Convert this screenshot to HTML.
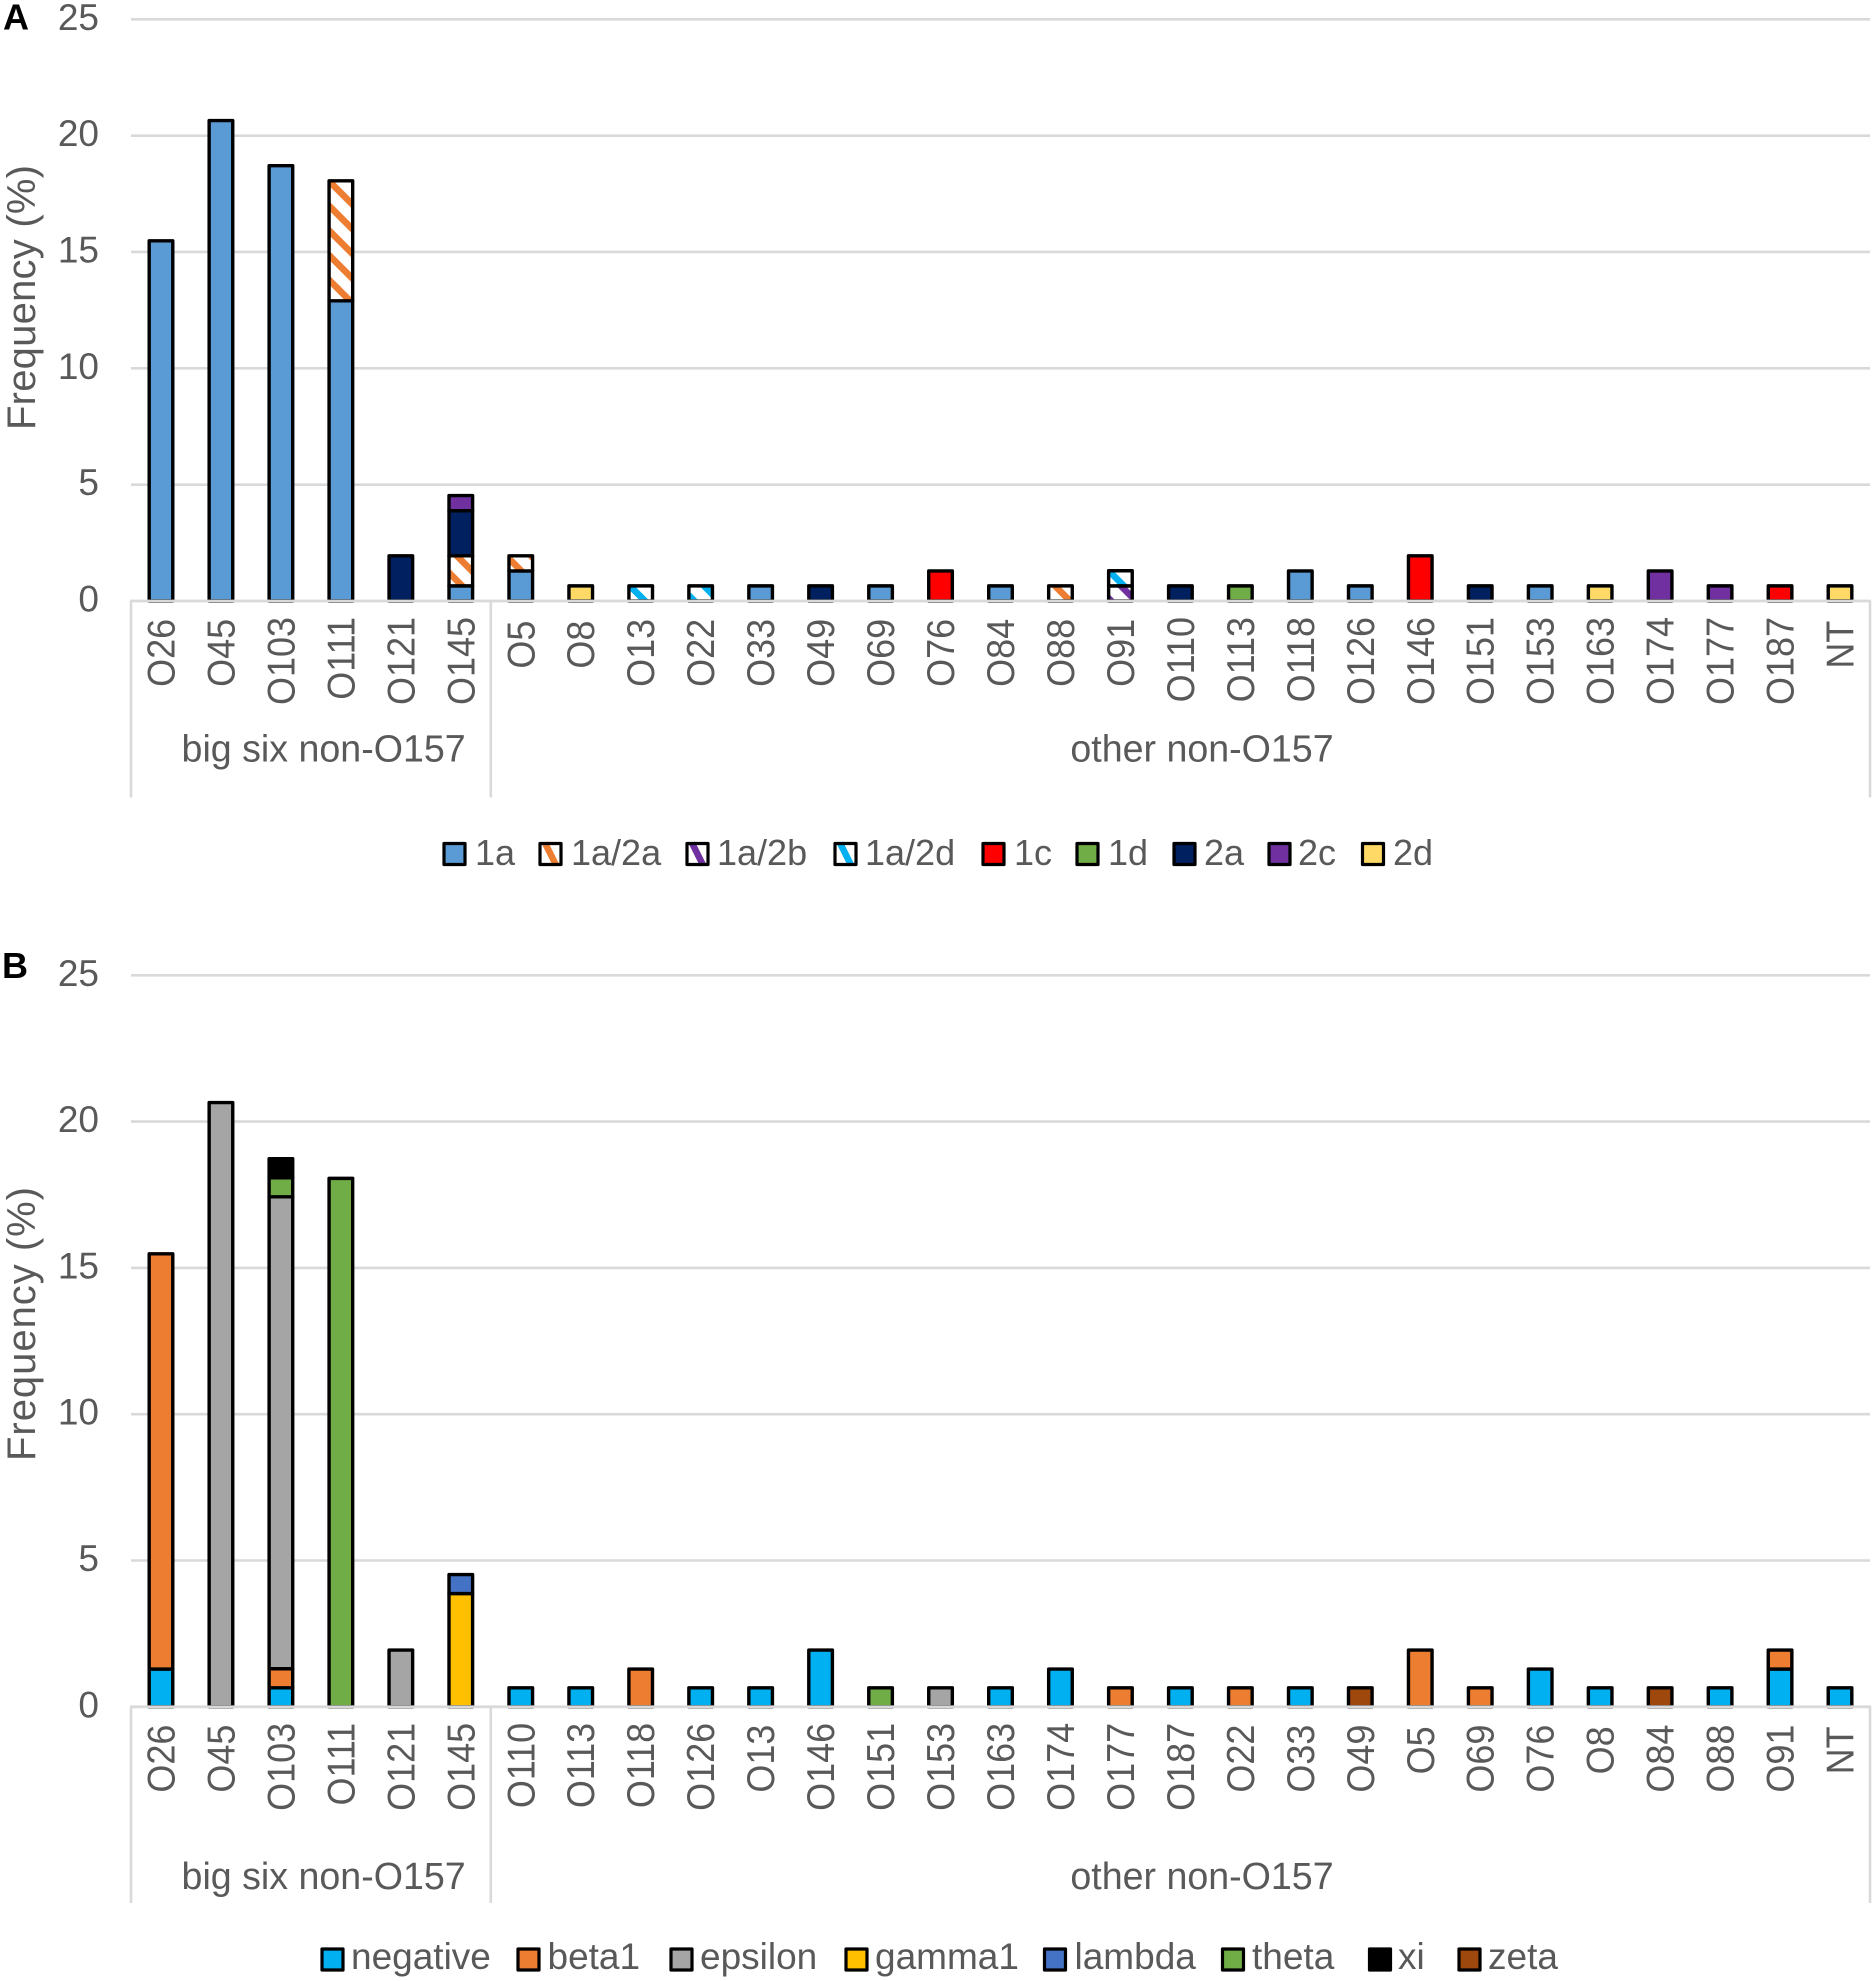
<!DOCTYPE html>
<html lang="en">
<head>
<meta charset="utf-8">
<title>Frequency of stx subtypes and eae subtypes by serogroup</title>
<style>
html,body{margin:0;padding:0;background:#fff;width:1876px;height:1981px;overflow:hidden}
svg{display:block}
text{font-family:"Liberation Sans",Arial,sans-serif;fill:#595959}
</style>
</head>
<body>
<svg id="figure" xmlns="http://www.w3.org/2000/svg" width="1876" height="1981" viewBox="0 0 1876 1981">
  <defs>
    <pattern id="stripe-orange" patternUnits="userSpaceOnUse" width="24.7" height="24.7" patternTransform="translate(331 183)">
      <rect width="24.7" height="24.7" fill="#fff"/>
      <path d="M-6 -6L31 31M-6 18.7L6 30.7M18.7 -6L31 6" stroke="#ED7D31" stroke-width="6.6" shape-rendering="crispEdges"/>
    </pattern>
    <pattern id="stripe-purple" patternUnits="userSpaceOnUse" width="24.7" height="24.7" patternTransform="translate(1118 583)">
      <rect width="24.7" height="24.7" fill="#fff"/>
      <path d="M-6 -6L31 31M-6 18.7L6 30.7M18.7 -6L31 6" stroke="#7030A0" stroke-width="6.6" shape-rendering="crispEdges"/>
    </pattern>
    <pattern id="stripe-cyan" patternUnits="userSpaceOnUse" width="24.7" height="24.7" patternTransform="translate(632 588)">
      <rect width="24.7" height="24.7" fill="#fff"/>
      <path d="M-6 -6L31 31M-6 18.7L6 30.7M18.7 -6L31 6" stroke="#00B0F0" stroke-width="6.6" shape-rendering="crispEdges"/>
    </pattern>
  </defs>

  <text x="3" y="29.5" font-size="36" font-weight="700" style="fill:#000">A</text>
  <text x="2" y="978" font-size="36" font-weight="700" style="fill:#000">B</text>

  <g id="panel-a"></g>
  <g id="panel-b"></g>

  <g font-size="36" stroke-linejoin="round">
    <g><rect x="444" y="843.5" width="21" height="21" fill="#5B9BD5" stroke="#000" stroke-width="3.2"/><text x="475" y="865">1a</text></g>
    <g><rect x="540" y="843.5" width="21" height="21" fill="#fff"/><path d="M545 843L556 865" stroke="#ED7D31" stroke-width="6.5" fill="none"/><rect x="540" y="843.5" width="21" height="21" fill="none" stroke="#000" stroke-width="3.2"/><text x="571" y="865">1a/2a</text></g>
    <g><rect x="687" y="843.5" width="21" height="21" fill="#fff"/><path d="M692 843L703 865" stroke="#7030A0" stroke-width="6.5" fill="none"/><rect x="687" y="843.5" width="21" height="21" fill="none" stroke="#000" stroke-width="3.2"/><text x="717" y="865">1a/2b</text></g>
    <g><rect x="835" y="843.5" width="21" height="21" fill="#fff"/><path d="M840 843L851 865" stroke="#00B0F0" stroke-width="6.5" fill="none"/><rect x="835" y="843.5" width="21" height="21" fill="none" stroke="#000" stroke-width="3.2"/><text x="865" y="865">1a/2d</text></g>
    <g><rect x="983" y="843.5" width="21" height="21" fill="#FF0000" stroke="#000" stroke-width="3.2"/><text x="1014" y="865">1c</text></g>
    <g><rect x="1077" y="843.5" width="21" height="21" fill="#70AD47" stroke="#000" stroke-width="3.2"/><text x="1108" y="865">1d</text></g>
    <g><rect x="1174" y="843.5" width="21" height="21" fill="#002060" stroke="#000" stroke-width="3.2"/><text x="1204" y="865">2a</text></g>
    <g><rect x="1269" y="843.5" width="21" height="21" fill="#7030A0" stroke="#000" stroke-width="3.2"/><text x="1298" y="865">2c</text></g>
    <g><rect x="1362.5" y="843.5" width="21" height="21" fill="#FFD966" stroke="#000" stroke-width="3.2"/><text x="1393" y="865">2d</text></g>
  </g>

  <g font-size="37" stroke-linejoin="round">
    <g><rect x="322" y="1949" width="21" height="21" fill="#00B0F0" stroke="#000" stroke-width="3.2"/><text x="351" y="1969">negative</text></g>
    <g><rect x="518" y="1949" width="21" height="21" fill="#ED7D31" stroke="#000" stroke-width="3.2"/><text x="547.5" y="1969">beta1</text></g>
    <g><rect x="671" y="1949" width="21" height="21" fill="#A5A5A5" stroke="#000" stroke-width="3.2"/><text x="700" y="1969">epsilon</text></g>
    <g><rect x="846" y="1949" width="21" height="21" fill="#FFC000" stroke="#000" stroke-width="3.2"/><text x="875" y="1969">gamma1</text></g>
    <g><rect x="1044.5" y="1949" width="21" height="21" fill="#4472C4" stroke="#000" stroke-width="3.2"/><text x="1074.5" y="1969">lambda</text></g>
    <g><rect x="1222.5" y="1949" width="21" height="21" fill="#70AD47" stroke="#000" stroke-width="3.2"/><text x="1252" y="1969">theta</text></g>
    <g><rect x="1369.5" y="1949" width="21" height="21" fill="#000" stroke="#000" stroke-width="3.2"/><text x="1398" y="1969">xi</text></g>
    <g><rect x="1459" y="1949" width="21" height="21" fill="#9E480E" stroke="#000" stroke-width="3.2"/><text x="1488" y="1969">zeta</text></g>
  </g>
</svg>

<script>
const yTicks = [0, 5, 10, 15, 20, 25];

/* Panel A: stx subtypes, frequency in percent */
const categoriesA = ["O26","O45","O103","O111","O121","O145","O5","O8","O13","O22","O33","O49","O69","O76","O84","O88","O91","O110","O113","O118","O126","O146","O151","O153","O163","O174","O177","O187","NT"];
const a1a   = [15.48,20.65,18.71,12.9,0,0.65,1.29,0,0,0,0.65,0,0.65,0,0.65,0,0,0,0,1.29,0.65,0,0,0.65,0,0,0,0,0];
const a1a2a = [0,0,0,5.16,0,1.29,0.65,0,0,0,0,0,0,0,0,0.65,0,0,0,0,0,0,0,0,0,0,0,0,0];
const a1a2b = [0,0,0,0,0,0,0,0,0,0,0,0,0,0,0,0,0.65,0,0,0,0,0,0,0,0,0,0,0,0];
const a1a2d = [0,0,0,0,0,0,0,0,0.65,0.65,0,0,0,0,0,0,0.65,0,0,0,0,0,0,0,0,0,0,0,0];
const a1c   = [0,0,0,0,0,0,0,0,0,0,0,0,0,1.29,0,0,0,0,0,0,0,1.94,0,0,0,0,0,0.65,0];
const a1d   = [0,0,0,0,0,0,0,0,0,0,0,0,0,0,0,0,0,0,0.65,0,0,0,0,0,0,0,0,0,0];
const a2a   = [0,0,0,0,1.94,1.94,0,0,0,0,0,0.65,0,0,0,0,0,0.65,0,0,0,0,0.65,0,0,0,0,0,0];
const a2c   = [0,0,0,0,0,0.65,0,0,0,0,0,0,0,0,0,0,0,0,0,0,0,0,0,0,0,1.29,0.65,0,0];
const a2d   = [0,0,0,0,0,0,0,0.65,0,0,0,0,0,0,0,0,0,0,0,0,0,0,0,0,0.65,0,0,0,0.65];

/* Panel B: eae subtypes, frequency in percent */
const categoriesB = ["O26","O45","O103","O111","O121","O145","O110","O113","O118","O126","O13","O146","O151","O153","O163","O174","O177","O187","O22","O33","O49","O5","O69","O76","O8","O84","O88","O91","NT"];
const bNegative = [1.29,0,0.65,0,0,0,0.65,0.65,0,0.65,0.65,1.94,0,0,0.65,1.29,0,0.65,0,0.65,0,0,0,1.29,0.65,0,0.65,1.29,0.65];
const bBeta1    = [14.19,0,0.65,0,0,0,0,0,1.29,0,0,0,0,0,0,0,0.65,0,0.65,0,0,1.94,0.65,0,0,0,0,0.65,0];
const bEpsilon  = [0,20.65,16.13,0,1.94,0,0,0,0,0,0,0,0,0.65,0,0,0,0,0,0,0,0,0,0,0,0,0,0,0];
const bGamma1   = [0,0,0,0,0,3.87,0,0,0,0,0,0,0,0,0,0,0,0,0,0,0,0,0,0,0,0,0,0,0];
const bLambda   = [0,0,0,0,0,0.65,0,0,0,0,0,0,0,0,0,0,0,0,0,0,0,0,0,0,0,0,0,0,0];
const bTheta    = [0,0,0.65,18.06,0,0,0,0,0,0,0,0,0.65,0,0,0,0,0,0,0,0,0,0,0,0,0,0,0,0];
const bXi       = [0,0,0.65,0,0,0,0,0,0,0,0,0,0,0,0,0,0,0,0,0,0,0,0,0,0,0,0,0,0];
const bZeta     = [0,0,0,0,0,0,0,0,0,0,0,0,0,0,0,0,0,0,0,0,0.65,0,0,0,0,0.65,0,0,0];

const groupNames = ["big six non-O157", "other non-O157"];
const bigSixCount = 6;

const seriesA = [
  {name: "1a", values: a1a, fill: "#5B9BD5"},
  {name: "1a-2a", values: a1a2a, fill: "url(#stripe-orange)"},
  {name: "1a-2b", values: a1a2b, fill: "url(#stripe-purple)"},
  {name: "1a-2d", values: a1a2d, fill: "url(#stripe-cyan)"},
  {name: "1c", values: a1c, fill: "#FF0000"},
  {name: "1d", values: a1d, fill: "#70AD47"},
  {name: "2a", values: a2a, fill: "#002060"},
  {name: "2c", values: a2c, fill: "#7030A0"},
  {name: "2d", values: a2d, fill: "#FFD966"}
];
const seriesB = [
  {name: "negative", values: bNegative, fill: "#00B0F0"},
  {name: "beta1", values: bBeta1, fill: "#ED7D31"},
  {name: "epsilon", values: bEpsilon, fill: "#A5A5A5"},
  {name: "gamma1", values: bGamma1, fill: "#FFC000"},
  {name: "lambda", values: bLambda, fill: "#4472C4"},
  {name: "theta", values: bTheta, fill: "#70AD47"},
  {name: "xi", values: bXi, fill: "#000000"},
  {name: "zeta", values: bZeta, fill: "#9E480E"}
];

const SVGNS = "http://www.w3.org/2000/svg";
function make(tag, parent, attrs, txt) {
  const el = document.createElementNS(SVGNS, tag);
  for (const k in attrs) el.setAttribute(k, attrs[k]);
  if (txt !== undefined) el.textContent = txt;
  parent.appendChild(el);
  return el;
}

function drawPanel(root, cats, series, cfg) {
  const left = 131, right = 1870;
  const step = (right - left) / cats.length;
  const xCenter = i => left + step * (i + 0.5);
  const yPos = v => cfg.y0 - (v / 25) * (cfg.y0 - cfg.y25);
  const grey = "#D9D9D9";

  yTicks.forEach(t => {
    if (t > 0) {
      const g = make("line", root, {x1: left, x2: right, y1: yPos(t), y2: yPos(t), stroke: grey, "stroke-width": 2.6});
      
      
    }
    const lab = make("text", root, {x: 99, y: yPos(t) + 10.5, "font-size": 37, "text-anchor": "end"}, String(t));
    
    
  });

  const title = make("text", root, {
    transform: "translate(35 " + cfg.titleY + ") rotate(-90)",
    "font-size": 40, "text-anchor": "middle",
    textLength: cfg.titleLen, lengthAdjust: "spacing"
  }, "Frequency (%)");
  
  

  cats.forEach((c, i) => {
    let base = 0;
    series.forEach(s => {
      const v = s.values[i];
      if (!v) return;
      const yTop = yPos(base + v);
      const yBot = yPos(base);
      const bar = make("rect", root, {
        x: xCenter(i) - 11.8, y: yTop, width: 23.6, height: yBot - yTop,
        fill: s.fill, stroke: "#000", "stroke-width": 3.4, "stroke-linejoin": "round"
      });
      
      
      base += v;
    });
  });

  const axisLine = make("line", root, {x1: left - 1, x2: right + 1, y1: cfg.y0, y2: cfg.y0, stroke: grey, "stroke-width": 2.8});
  
  

  [left, left + step * bigSixCount, right].forEach((x, idx) => {
    const sep = make("line", root, {x1: x, x2: x, y1: cfg.y0, y2: cfg.axisBottom, stroke: grey, "stroke-width": 2.6});
    
    
  });

  cats.forEach((c, i) => {
    const top = cfg.y0 + 16 + (4 - c.length) * 1.8;
    const lab = make("text", root, {
      transform: "translate(" + (xCenter(i) + 13.5) + " " + top + ") rotate(-90) scale(1 1.08)",
      "font-size": 36, "text-anchor": "end"
    }, c);
    
    
  });

  const g1 = make("text", root, {x: 323.6, y: cfg.groupY, "font-size": 37.6, "text-anchor": "middle"}, groupNames[0]);
  
  
  const g2 = make("text", root, {x: 1202, y: cfg.groupY, "font-size": 37.6, "text-anchor": "middle"}, groupNames[1]);
  
  
}

drawPanel(document.getElementById("panel-a"), categoriesA, seriesA,
  {y0: 601, y25: 19.3, axisBottom: 797.5, groupY: 761.5, titleY: 297.5, titleLen: 265});
drawPanel(document.getElementById("panel-b"), categoriesB, seriesB,
  {y0: 1706.8, y25: 975.3, axisBottom: 1903, groupY: 1889, titleY: 1324, titleLen: 274});
</script>
</body>
</html>
